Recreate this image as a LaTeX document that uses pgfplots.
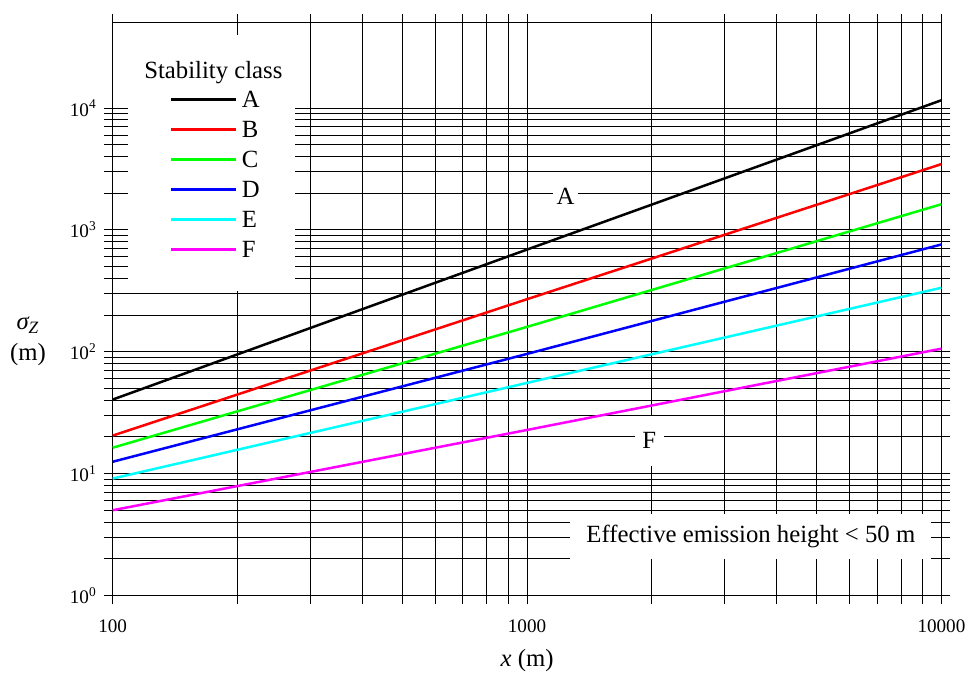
\documentclass[border=0pt]{standalone}
\usepackage{fontspec}
\setmainfont{Liberation Serif}
\usepackage{pgfplots}
\pgfplotsset{compat=1.18}
\definecolor{cR}{RGB}{255,0,0}
\definecolor{cG}{RGB}{0,255,0}
\definecolor{cB}{RGB}{0,0,255}
\definecolor{cC}{RGB}{0,255,255}
\definecolor{cM}{RGB}{255,0,255}
\begin{document}
\begin{tikzpicture}
\begin{loglogaxis}[
  scale only axis, width=415.5pt, height=287pt,
  xmin=100, xmax=10000, ymin=1, ymax=5e4,
  clip=false,
  xtick={100,1000,10000}, xticklabels={100,1000,10000},
  ytick={1,10,100,1000,10000},
  yticklabels={10\textsuperscript{0},10\textsuperscript{1},10\textsuperscript{2},10\textsuperscript{3},10\textsuperscript{4}},
  grid=both,
  major grid style={black, line width=0.5pt},
  minor grid style={black, line width=0.5pt},
  tick align=outside, xtick pos=both, ytick pos=both,
  xticklabel pos=lower, yticklabel pos=left,
  major tick length=4.5pt, minor tick length=4.5pt,
  tick style={black, line width=0.5pt},
  axis line style={black, line width=0.5pt},
  tick label style={font=\fontsize{9.6}{11}\selectfont},
  xticklabel style={yshift=-4pt},
  legend cell align=left,
  legend image code/.code={\draw[#1] (0pt,0pt) -- (32.5pt,0pt);},
  legend style={at={(rel axis cs:0,1)}, anchor=north west, xshift=28.5pt, yshift=-31pt,
    inner sep=0pt, outer sep=0pt, draw=none, fill=none, row sep=0pt, column sep=2.5pt,
    nodes={inner sep=0pt, text height=11.6pt, text depth=3.4pt, font=\fontsize{12.4}{14}\selectfont}},
]
\fill[white] (rel axis cs:0.018,0.531) rectangle (rel axis cs:0.2202,0.979);
\addplot[black, line width=1.25pt] coordinates {(100,40.5) (1000,690) (10000,11600)};
\addlegendentry{A}
\addplot[cR, line width=1.25pt] coordinates {(100,20.5) (1000,270) (10000,3470)};
\addlegendentry{B}
\addplot[cG, line width=1.25pt] coordinates {(100,16.3) (1000,160) (10000,1625)};
\addlegendentry{C}
\addplot[cB, line width=1.25pt] coordinates {(100,12.5) (1000,96) (10000,760)};
\addlegendentry{D}
\addplot[cC, line width=1.25pt] coordinates {(100,9.1) (1000,55.5) (10000,335)};
\addlegendentry{E}
\addplot[cM, line width=1.25pt] coordinates {(100,5.0) (1000,22.8) (10000,106)};
\addlegendentry{F}
\node[anchor=base, font=\fontsize{12.4}{14}\selectfont] at (rel axis cs:0.1215,0.9024) {Stability class};
\node[fill=white, inner xsep=2pt, inner ysep=4pt, font=\fontsize{12.4}{14}\selectfont] at (axis cs:1238,1900) {A};
\node[fill=white, inner xsep=3.7pt, inner ysep=0pt, minimum height=25pt, font=\fontsize{12.4}{14}\selectfont] at (axis cs:1972,18.6) {F};
\node[fill=white, inner sep=0pt, minimum width=181pt, minimum height=23pt, font=\fontsize{12.4}{14}\selectfont] at (rel axis cs:0.770,0.1028) {Effective emission height < 50 m};
\node[font=\fontsize{12.4}{14}\selectfont] at (rel axis cs:0.5,0) [yshift=-32.5pt] {\textit{x} (m)};
\node[align=center, font=\fontsize{12.4}{15.5}\selectfont] at (rel axis cs:0,0.444) [xshift=-42.5pt] {\textit{σ\textsubscript{Z}}\\(m)};
\end{loglogaxis}
\path (current axis.south west) ++(-56.5pt,-39pt) (current axis.north east) ++(14pt,11.5pt);
\end{tikzpicture}
\end{document}
